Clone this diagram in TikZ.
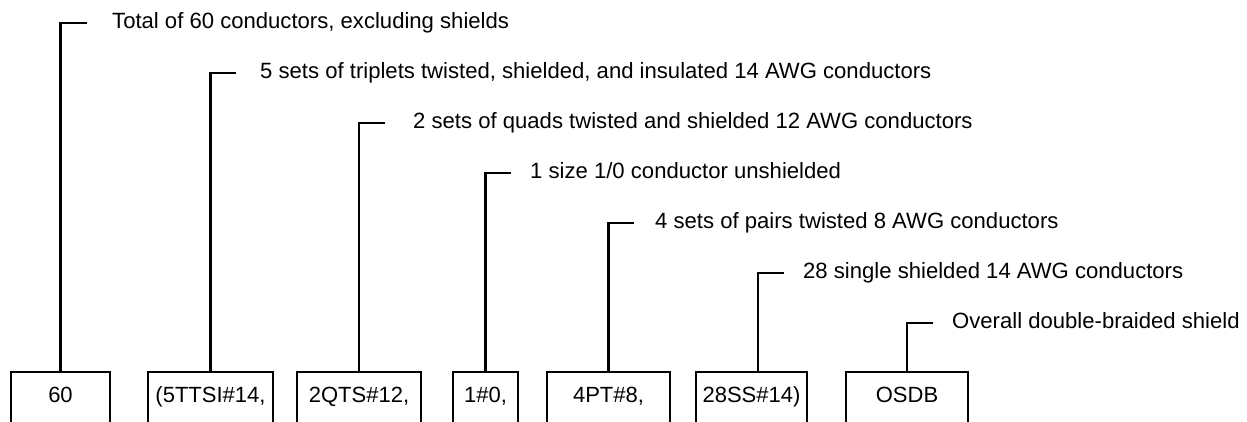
\documentclass[tikz,border=0pt]{standalone}
\usepackage{fontspec}
\setmainfont{Liberation Sans}
\begin{document}
\begin{tikzpicture}[x=1pt,y=-1pt,
  conn/.style={line width=2.6pt,line cap=rect},
  codebox/.style={draw,line width=2pt,anchor=base,inner xsep=0pt,inner ysep=0pt,
    text height=30pt,text depth=60pt,font=\fontsize{22}{26}\selectfont},
  lab/.style={anchor=base west,inner sep=0pt,font=\fontsize{22.1}{26}\selectfont}]
\clip (0,0) rectangle (1247,421);
\fill[white] (0,0) rectangle (1247,421);
% code boxes
\node[codebox,minimum width=99pt]  (b1) at (60.5,402) {60};
\node[codebox,minimum width=125pt] (b2) at (210.5,402) {(5TTSI\#14,};
\node[codebox,minimum width=124pt] (b3) at (359,402) {2QTS\#12,};
\node[codebox,minimum width=65pt]  (b4) at (485.5,402) {1\#0,};
\node[codebox,minimum width=123pt] (b5) at (608.5,402) {4PT\#8,};
\node[codebox,minimum width=111pt] (b6) at (751.5,402) {28SS\#14)};
\node[codebox,minimum width=122pt] (b7) at (907,402) {OSDB};
% tick ends
\coordinate (c1) at (86,23);
\coordinate (c2) at (235,73);
\coordinate (c3) at (384,123);
\coordinate (c4) at (510,173);
\coordinate (c5) at (633,223);
\coordinate (c6) at (783,273);
\coordinate (c7) at (932,323);
% labels
\node[lab] (t1) at (112,28) {Total of 60 conductors, excluding shields};
\node[lab] (t2) at (260,78) {5 sets of triplets twisted, shielded, and insulated 14 AWG conductors};
\node[lab] (t3) at (413,128) {2 sets of quads twisted and shielded 12 AWG conductors};
\node[lab] (t4) at (530,178) {1 size 1/0 conductor unshielded};
\node[lab] (t5) at (655,228) {4 sets of pairs twisted 8 AWG conductors};
\node[lab] (t6) at (803,278) {28 single shielded 14 AWG conductors};
\node[lab] (t7) at (952,328) {Overall double-braided shield};
% connectors
\draw[conn] (b1.north) |- (c1);
\draw[conn] (b2.north) |- (c2);
\draw[conn] (b3.north) |- (c3);
\draw[conn] (b4.north) |- (c4);
\draw[conn] (b5.north) |- (c5);
\draw[conn] ([xshift=6.5pt]b6.north) |- (c6);
\draw[conn] (b7.north) |- (c7);
\end{tikzpicture}
\end{document}
